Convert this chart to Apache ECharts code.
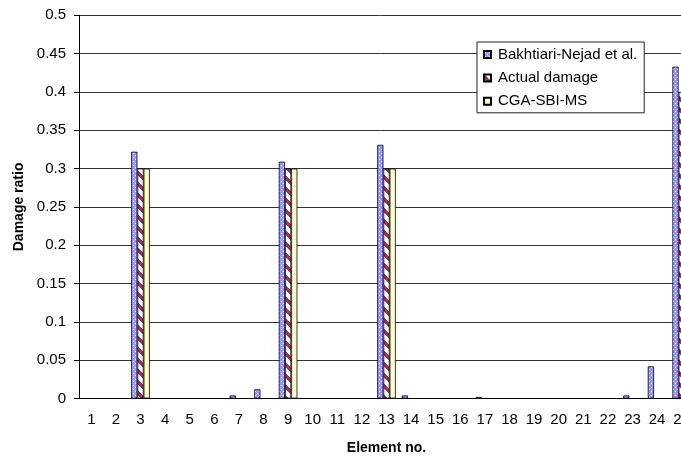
<!DOCTYPE html>
<html><head><meta charset="utf-8">
<script src="https://cdn.jsdelivr.net/npm/echarts@6/dist/echarts.min.js"></script>
<style>html,body{margin:0;padding:0;background:#fff}#c{width:681px;height:460px}</style>
</head><body><div id="c"></div>
<script>
var categories = ['1','2','3','4','5','6','7','8','9','10','11','12','13','14','15','16','17','18','19','20','21','22','23','24','25'];
var bakhtiari = [0,0,0.322,0,0,0,0.004,0.012,0.309,0,0,0,0.331,0.004,0,0,0.002,0,0,0,0,0,0.004,0.042,0.433];
var actualDamage = [0,0,0.3,0,0,0,0,0,0.3,0,0,0,0.3,0,0,0,0,0,0,0,0,0,0,0,0.4];
var cgaSbiMs = [0,0,0.3,0,0,0,0,0,0.3,0,0,0,0.3,0,0,0,0,0,0,0,0,0,0,0,0.4];
var seriesNames = ['Bakhtiari-Nejad et al.','Actual damage','CGA-SBI-MS'];

function makePattern(size, fn){
  var cv = document.createElement('canvas'); cv.width = size; cv.height = size;
  var ctx = cv.getContext('2d');
  for (var y=0;y<size;y++) for (var x=0;x<size;x++){ ctx.fillStyle = fn(x,y); ctx.fillRect(x,y,1,1); }
  return cv;
}
var bluePat = makePattern(4, function(x,y){ return ((x===1&&y===1)||(x===3&&y===3)) ? '#ffffff' : '#9999ff'; });
var redPat = makePattern(11, function(x,y){ return (((y - x) % 11 + 11) % 11) < 5 ? '#993366' : '#ffffff'; });

var font = '"Liberation Sans", Arial, sans-serif';
var chart = echarts.init(document.getElementById('c'), null, {renderer:'canvas'});
chart.setOption({
  animation:false,
  backgroundColor:'#fff',
  grid:{left:79, right:-13, top:15.3, bottom:61.5, containLabel:false, outerBoundsMode:'none'},
  legend:{
    orient:'vertical', left:477, top:42, width:166,
    padding:[4,7,3,6], itemGap:6.4, itemWidth:7, itemHeight:7, icon:'rect',
    backgroundColor:'#fff', borderColor:'#222', borderWidth:1,
    textStyle:{fontFamily:font, fontSize:15, color:'#000', lineHeight:17, padding:[0,0,0,2]},
    data:seriesNames
  },
  xAxis:{
    type:'category', data:categories,
    name:'Element no.', nameLocation:'middle', nameGap:43,
    nameTextStyle:{fontFamily:font, fontSize:14, fontWeight:'bold', color:'#000'},
    axisLine:{lineStyle:{color:'#000', width:1}},
    axisTick:{length:5, lineStyle:{color:'#000'}},
    axisLabel:{fontFamily:font, fontSize:15, color:'#000', margin:14, interval:0, hideOverlap:false}
  },
  yAxis:{
    type:'value', min:0, max:0.5, interval:0.05,
    name:'Damage ratio', nameLocation:'middle', nameGap:50, nameRotate:90,
    nameTextStyle:{fontFamily:font, fontSize:14, fontWeight:'bold', color:'#000'},
    axisLine:{show:true, lineStyle:{color:'#000', width:1}},
    axisTick:{show:true, length:5, lineStyle:{color:'#000'}},
    axisLabel:{fontFamily:font, fontSize:15, color:'#000', margin:13},
    splitLine:{show:true, lineStyle:{color:'#333', width:1}}
  },
  series:[
    {name:seriesNames[0], type:'bar', data:bakhtiari, barWidth:6.2, barGap:'0%',
     itemStyle:{color:{image:bluePat, repeat:'repeat'}, borderColor:'#000', borderWidth:0.8}},
    {name:seriesNames[1], type:'bar', data:actualDamage, barWidth:6.2, barGap:'0%',
     itemStyle:{color:{image:redPat, repeat:'repeat'}, borderColor:'#000', borderWidth:0.8}},
    {name:seriesNames[2], type:'bar', data:cgaSbiMs, barWidth:6.2, barGap:'0%',
     itemStyle:{color:'#ffffcc', borderColor:'#000', borderWidth:0.8}}
  ]
});
</script></body></html>
